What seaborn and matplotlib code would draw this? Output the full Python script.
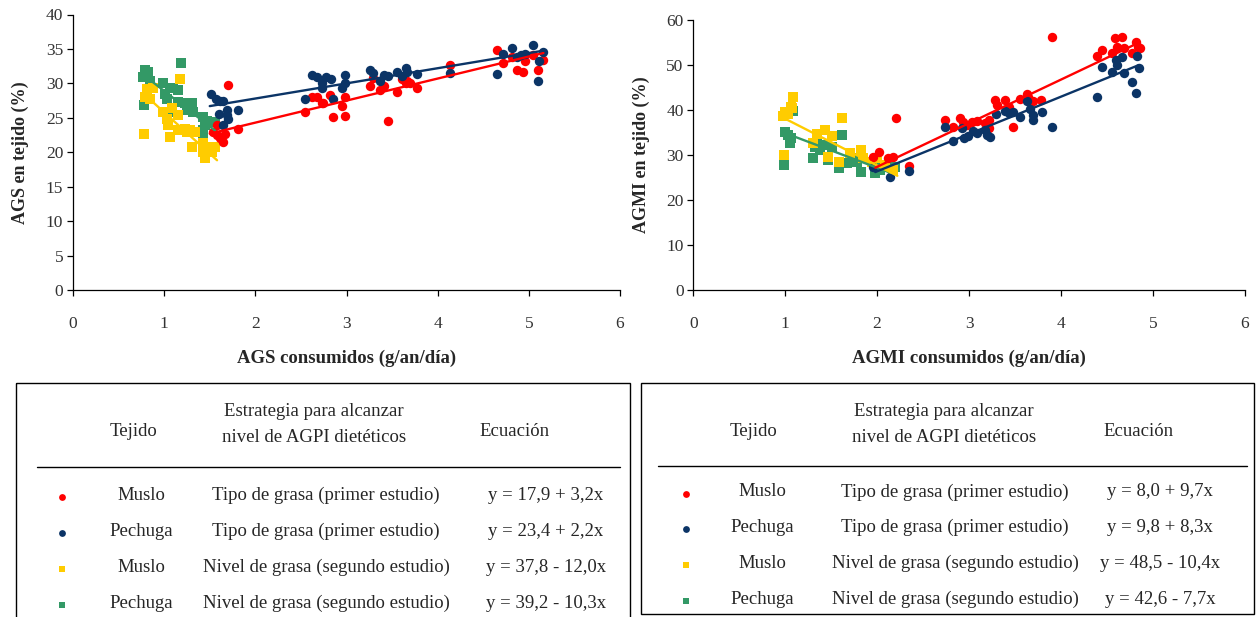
import matplotlib
matplotlib.use("Agg")
import matplotlib.pyplot as plt
import seaborn as sns
import pandas as pd
import numpy as np
from matplotlib.patches import Rectangle

sns.set_theme(style="white")
plt.rcParams['font.family'] = ['Liberation Serif', 'DejaVu Serif']

# ---------------- data: left chart (AGS) ----------------
ags_muslo1_x = [1.70, 1.54, 1.58, 1.61, 1.65, 1.67, 1.81, 1.58, 2.54, 2.62, 2.68, 2.73, 2.82, 2.85, 2.95, 2.98, 2.98, 2.74,
                3.26, 3.29, 3.37, 3.41, 3.46, 3.55, 3.61, 3.65, 3.70, 3.77, 4.14, 4.65, 4.72, 4.82, 4.87, 4.94, 4.96, 5.05, 5.10, 5.16, 3.66]
ags_muslo1_y = [29.8, 22.9, 22.5, 22.0, 21.5, 22.7, 23.4, 23.9, 25.9, 28.0, 28.0, 27.1, 28.3, 25.1, 26.7, 28.0, 25.2, 27.2,
                29.6, 30.8, 29.1, 29.6, 24.5, 28.7, 30.7, 30.0, 30.1, 29.4, 32.6, 34.8, 33.0, 33.8, 32.0, 31.6, 33.3, 34.1, 32.0, 33.4, 30.4]
ags_pechuga1_x = [1.51, 1.57, 1.61, 1.65, 1.69, 1.60, 1.69, 1.70, 1.65, 1.81, 2.54, 2.62, 2.68, 2.73, 2.73, 2.77, 2.83, 2.85,
                  2.95, 2.98, 2.98, 3.26, 3.29, 3.37, 3.41, 3.45, 3.55, 3.61, 3.65, 3.66, 3.77, 4.14, 4.65, 4.72, 4.82, 4.87,
                  4.91, 4.96, 5.05, 5.10, 5.11, 5.15]
ags_pechuga1_y = [28.4, 27.7, 27.5, 27.5, 26.2, 25.5, 25.4, 24.8, 23.9, 26.2, 27.8, 31.2, 30.9, 30.0, 29.4, 30.9, 30.7, 27.7,
                  29.3, 31.2, 30.1, 32.0, 31.5, 30.4, 31.2, 31.0, 31.6, 31.0, 32.2, 31.6, 31.3, 31.5, 31.3, 34.2, 35.1, 33.8,
                  34.1, 34.3, 35.5, 30.4, 33.2, 34.5]
ags_muslo2_x = [0.81, 0.79, 0.85, 0.88, 0.78, 0.99, 1.03, 1.04, 1.06, 1.09, 1.15, 1.17, 1.15, 1.23, 1.28, 1.30, 1.34, 1.43,
                1.45, 1.47, 1.52, 1.56, 1.25, 1.43]
ags_muslo2_y = [29.2, 28.0, 27.8, 29.4, 22.7, 25.8, 24.9, 23.9, 22.2, 26.4, 25.4, 30.7, 23.2, 23.4, 23.2, 20.7, 22.9, 20.0,
                19.1, 20.8, 20.0, 20.8, 22.9, 21.3]
ags_pechuga2_x = [0.79, 0.82, 0.77, 0.85, 0.78, 0.99, 1.03, 1.01, 1.06, 1.10, 1.15, 1.06, 1.19, 1.15, 1.23, 1.25, 1.30, 1.32,
                  1.26, 1.43, 1.43, 1.45, 1.47, 1.56, 1.43]
ags_pechuga2_y = [31.9, 31.6, 30.9, 30.4, 26.8, 30.0, 27.8, 28.5, 29.4, 29.3, 29.0, 25.8, 33.0, 27.3, 27.1, 26.1, 27.1, 25.8,
                  26.6, 25.1, 23.2, 23.9, 24.6, 24.4, 22.7]

# ---------------- data: right chart (AGMI) ----------------
agmi_muslo1_x = [2.21, 2.02, 1.96, 2.12, 2.17, 2.35, 3.90, 2.74, 2.83, 2.90, 2.93, 2.98, 3.03, 3.09, 3.17, 3.22, 3.22, 3.28,
                 3.30, 3.39, 3.43, 3.48, 3.56, 3.63, 3.64, 3.70, 3.78, 4.39, 4.45, 4.56, 4.59, 4.61, 4.67, 4.69, 4.77, 4.82,
                 4.84, 4.86]
agmi_muslo1_y = [38.2, 30.7, 29.6, 29.4, 29.6, 27.6, 56.2, 37.8, 36.2, 38.2, 37.3, 36.7, 37.3, 37.6, 37.1, 37.8, 36.0, 42.2,
                 41.1, 42.2, 40.7, 36.2, 42.4, 43.6, 42.9, 42.0, 42.2, 52.0, 53.3, 52.7, 56.0, 54.0, 56.2, 53.8, 52.7, 55.1,
                 54.0, 53.8]
agmi_pechuga1_x = [1.96, 2.14, 2.35, 2.74, 2.83, 2.92, 2.95, 2.99, 3.04, 3.09, 3.17, 3.20, 3.23, 3.29, 3.39, 3.43, 3.48, 3.56,
                   3.63, 3.66, 3.70, 3.70, 3.79, 3.90, 4.39, 4.45, 4.56, 4.60, 4.61, 4.67, 4.69, 4.77, 4.82, 4.83, 4.85]
agmi_pechuga1_y = [27.3, 25.1, 26.4, 36.2, 33.1, 36.0, 33.8, 34.2, 35.3, 34.9, 35.6, 34.4, 34.0, 39.1, 39.8, 39.3, 39.6, 38.4,
                   42.0, 40.2, 38.9, 37.8, 39.6, 36.2, 42.9, 49.6, 48.4, 51.1, 50.0, 51.8, 48.2, 46.2, 43.8, 52.0, 49.3]
agmi_muslo2_x = [1.09, 1.00, 0.98, 1.03, 1.06, 0.99, 1.62, 1.35, 1.43, 1.51, 1.30, 1.47, 1.58, 1.71, 1.83, 1.85, 1.94, 2.00,
                 2.09, 2.17, 1.07]
agmi_muslo2_y = [43.0, 39.6, 38.7, 39.2, 40.7, 30.0, 38.2, 34.8, 35.5, 34.2, 32.6, 29.6, 28.4, 30.4, 31.1, 29.4, 28.4, 29.4,
                 27.8, 26.7, 40.4]
agmi_pechuga2_x = [1.09, 1.00, 1.03, 1.05, 1.06, 0.99, 1.62, 1.32, 1.38, 1.35, 1.41, 1.30, 1.47, 1.51, 1.58, 1.67, 1.71, 1.78,
                   1.83, 1.83, 2.00, 2.03, 2.10, 2.19, 1.98, 1.74]
agmi_pechuga2_y = [39.8, 35.1, 34.4, 32.7, 33.8, 27.8, 34.4, 31.8, 31.1, 32.9, 32.2, 29.3, 28.9, 31.8, 27.1, 28.2, 28.9, 28.4,
                   30.0, 26.2, 28.4, 26.7, 27.8, 27.3, 26.0, 29.3]

# regression equations (intercept, slope) and fitted x ranges
ags_fits = {"Muslo1": (17.9, 3.2, 1.50, 5.16), "Pechuga1": (23.4, 2.2, 1.50, 5.16),
            "Muslo2": (37.8, -12.0, 0.80, 1.58), "Pechuga2": (39.2, -10.3, 0.80, 1.56)}
agmi_fits = {"Muslo1": (8.0, 9.7, 1.98, 4.83), "Pechuga1": (9.8, 8.3, 1.98, 4.85),
             "Muslo2": (48.5, -10.4, 0.98, 2.22), "Pechuga2": (42.6, -7.7, 1.00, 2.15)}

series_colors = {"Muslo1": "#FF0000", "Pechuga1": "#0B3466", "Muslo2": "#FFCC00", "Pechuga2": "#339966"}
series_markers = {"Muslo1": "o", "Pechuga1": "o", "Muslo2": "s", "Pechuga2": "s"}

tejido = ["Muslo", "Pechuga", "Muslo", "Pechuga"]
estrategia = ["Tipo de grasa (primer estudio)", "Tipo de grasa (primer estudio)",
              "Nivel de grasa (segundo estudio)", "Nivel de grasa (segundo estudio)"]
ags_eq = ["y = 17,9 + 3,2x", "y = 23,4 + 2,2x", "y = 37,8 - 12,0x", "y = 39,2 - 10,3x"]
agmi_eq = ["y = 8,0 + 9,7x", "y = 9,8 + 8,3x", "y = 48,5 - 10,4x", "y = 42,6 - 7,7x"]


def make_df(pairs):
    frames = []
    for name, (xs, ys) in pairs.items():
        frames.append(pd.DataFrame({"x": xs, "y": ys, "serie": name}))
    return pd.concat(frames, ignore_index=True)


def fit_df(fits):
    frames = []
    for name, (b0, b1, x0, x1) in fits.items():
        xs = np.array([x0, x1])
        frames.append(pd.DataFrame({"x": xs, "y": b0 + b1 * xs, "serie": name}))
    return pd.concat(frames, ignore_index=True)


ags_df = make_df({"Muslo1": (ags_muslo1_x, ags_muslo1_y), "Pechuga1": (ags_pechuga1_x, ags_pechuga1_y),
                  "Muslo2": (ags_muslo2_x, ags_muslo2_y), "Pechuga2": (ags_pechuga2_x, ags_pechuga2_y)})
agmi_df = make_df({"Muslo1": (agmi_muslo1_x, agmi_muslo1_y), "Pechuga1": (agmi_pechuga1_x, agmi_pechuga1_y),
                   "Muslo2": (agmi_muslo2_x, agmi_muslo2_y), "Pechuga2": (agmi_pechuga2_x, agmi_pechuga2_y)})

W, H = 1257, 617
fig = plt.figure(figsize=(W / 100, H / 100), dpi=100)

ax1 = fig.add_axes([73 / W, 1 - 290 / H, 547 / W, 275.5 / H])
ax2 = fig.add_axes([693.3 / W, 1 - 290 / H, 551.4 / W, 269.7 / H])


def draw(ax, df, fits, ymax, ystep, ylabel, xlabel):
    order = ["Pechuga2", "Muslo2", "Muslo1", "Pechuga1"]
    for name in order:
        sub = df[df.serie == name]
        sns.scatterplot(data=sub, x="x", y="y", ax=ax, color=series_colors[name],
                        marker=series_markers[name], s=46, linewidth=0, legend=False, zorder=3)
    fdf = fit_df(fits)
    for name in order:
        sub = fdf[fdf.serie == name]
        sns.lineplot(data=sub, x="x", y="y", ax=ax, color=series_colors[name], linewidth=1.7,
                     legend=False, zorder=4)
    ax.set_xlim(0, 6)
    ax.set_ylim(0, ymax)
    ax.set_xticks(range(0, 7))
    ax.set_yticks(np.arange(0, ymax + 1, ystep))
    for s in ["top", "right"]:
        ax.spines[s].set_visible(False)
    for s in ["left", "bottom"]:
        ax.spines[s].set_color("black")
        ax.spines[s].set_linewidth(0.9)
    ax.tick_params(axis="both", direction="out", length=4.5, width=0.9, color="black",
                   labelsize=12.5, labelcolor="#333333", left=True, bottom=True)
    ax.tick_params(axis="x", pad=14)
    ax.tick_params(axis="y", pad=2.5)
    ax.set_xlabel(xlabel, fontsize=13.5, fontweight="bold", labelpad=13)
    ax.set_ylabel(ylabel, fontsize=13, fontweight="bold", labelpad=12)
    ax.grid(False)
    ax.set_facecolor("white")


draw(ax1, ags_df, ags_fits, 40, 5, "AGS en tejido (%)", "AGS consumidos (g/an/día)")
draw(ax2, agmi_df, agmi_fits, 60, 10, "AGMI en tejido (%)", "AGMI consumidos (g/an/día)")

# ---------------- tables (pixel-coordinate overlay) ----------------
ov = fig.add_axes([0, 0, 1, 1], facecolor="none")
ov.set_xlim(0, W)
ov.set_ylim(H, 0)
ov.axis("off")

FS = 13.5


def table(x0, x1, y_top, y_bot, hline, cols, rows_y, marker_x, eqs):
    ov.add_patch(Rectangle((x0, y_top), x1 - x0, y_bot - y_top, fill=False, edgecolor="black",
                           linewidth=1.0, clip_on=False))
    ov.plot([hline[0], hline[1]], [hline[2], hline[2]], color="black", linewidth=1.0)
    ctej, cest, ceq, ctej_r, cest_r, ceq_r = cols
    ov.text(ctej, 432, "Tejido", ha="center", va="center", fontsize=FS)
    ov.text(cest, 412, "Estrategia para alcanzar", ha="center", va="center", fontsize=FS)
    ov.text(cest, 437, "nivel de AGPI dietéticos", ha="center", va="center", fontsize=FS)
    ov.text(ceq, 432, "Ecuación", ha="center", va="center", fontsize=FS)
    names = ["Muslo1", "Pechuga1", "Muslo2", "Pechuga2"]
    for i, ry in enumerate(rows_y):
        ov.scatter([marker_x], [ry + 2], color=series_colors[names[i]], marker=series_markers[names[i]],
                   s=24, linewidths=0)
        ov.text(ctej_r, ry, tejido[i], ha="center", va="center", fontsize=FS)
        ov.text(cest_r, ry, estrategia[i], ha="center", va="center", fontsize=FS)
        ov.text(ceq_r, ry, eqs[i], ha="center", va="center", fontsize=FS)


table(16, 630, 383, 640, (37, 620, 467), (133, 314, 515, 141, 326, 546), [495, 531, 567, 603], 62, ags_eq)
table(641, 1254, 383, 614, (658, 1247, 466), (754, 944, 1139, 762, 955, 1160), [492, 527, 563, 599], 686, agmi_eq)

fig.savefig("out.png", dpi=100, facecolor="white")
